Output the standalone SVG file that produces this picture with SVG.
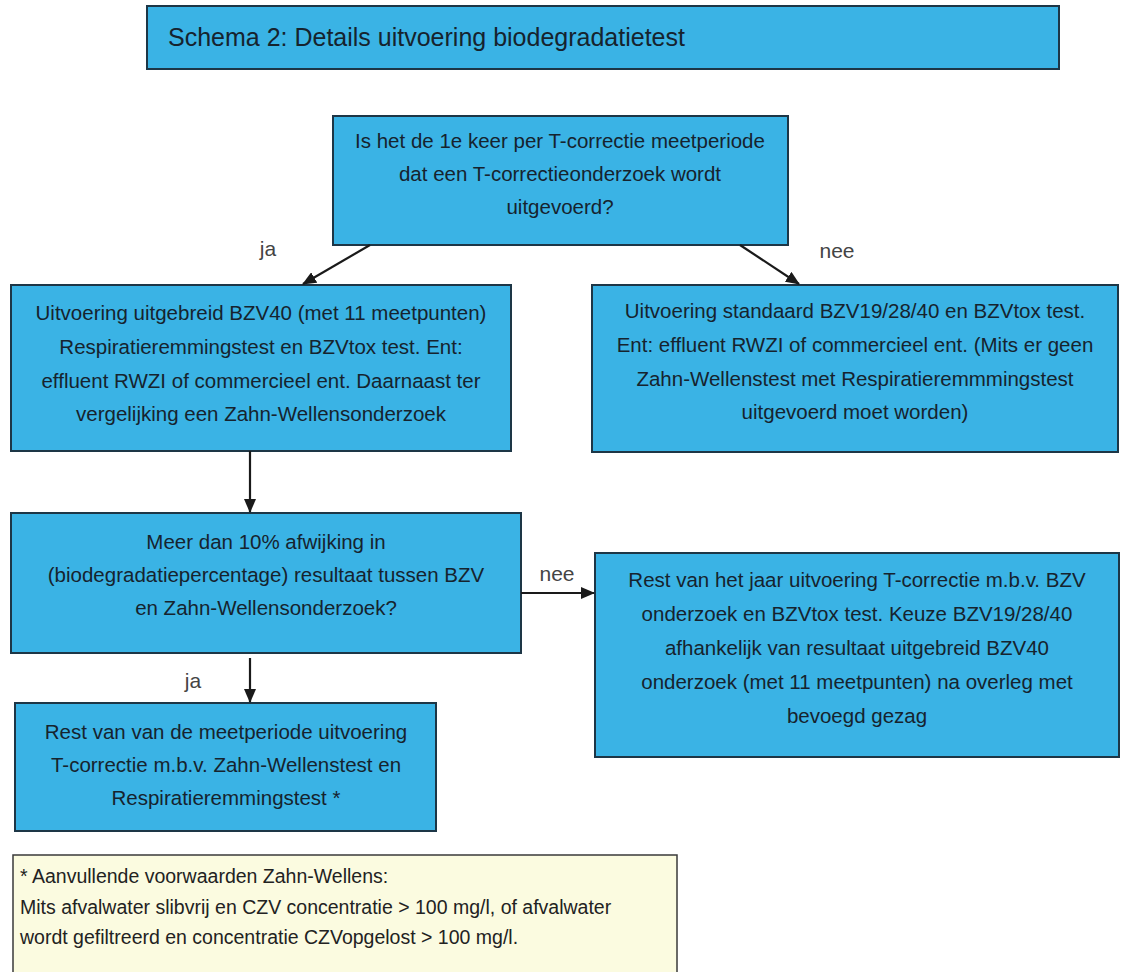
<svg xmlns="http://www.w3.org/2000/svg" width="1121" height="972" viewBox="0 0 1121 972">
<defs>
<style>
.box{fill:#3ab3e5;stroke:#1d3646;stroke-width:2}
.note{fill:#fbfbe0;stroke:#3a3a3a;stroke-width:1.5}
.t{font-family:"Liberation Sans",Arial,sans-serif;font-size:20.5px;fill:#16232e;text-anchor:middle}
.lbl{font-family:"Liberation Sans",Arial,sans-serif;font-size:21px;fill:#444;text-anchor:middle}
.title{font-family:"Liberation Sans",Arial,sans-serif;font-size:25px;fill:#16232e}
.nt{font-family:"Liberation Sans",Arial,sans-serif;font-size:19.5px;fill:#222}
.c{stroke:#1a1a1a;stroke-width:2.2;fill:none}
</style>
<marker id="ah" markerWidth="14" markerHeight="12" refX="13" refY="6" orient="auto" markerUnits="userSpaceOnUse" viewBox="0 0 14 12">
<path d="M0,0 L14,6 L0,12 z" fill="#1a1a1a"/>
</marker>
</defs>
<rect width="1121" height="972" fill="#ffffff"/>
<g id="title">
<rect class="box" x="147" y="6" width="912" height="63"/>
<text class="title" x="168" y="46">Schema 2: Details uitvoering biodegradatietest</text>
</g>
<g id="q1">
<rect class="box" x="333" y="116" width="455" height="129"/>
<text class="t" x="560" y="148">Is het de 1e keer per T-correctie meetperiode</text>
<text class="t" x="560" y="181">dat een T-correctieonderzoek wordt</text>
<text class="t" x="560" y="214">uitgevoerd?</text>
</g>
<g id="extended">
<rect class="box" x="11" y="285" width="500" height="166"/>
<text class="t" x="261" y="320">Uitvoering uitgebreid BZV40 (met 11 meetpunten)</text>
<text class="t" x="261" y="354">Respiratieremmingstest en BZVtox test. Ent:</text>
<text class="t" x="261" y="388">effluent RWZI of commercieel ent. Daarnaast ter</text>
<text class="t" x="261" y="421">vergelijking een Zahn-Wellensonderzoek</text>
</g>
<g id="standard">
<rect class="box" x="592" y="285" width="526" height="167"/>
<text class="t" x="855" y="318">Uitvoering standaard BZV19/28/40 en BZVtox test.</text>
<text class="t" x="855" y="352">Ent: effluent RWZI of commercieel ent. (Mits er geen</text>
<text class="t" x="855" y="386">Zahn-Wellenstest met Respiratieremmmingstest</text>
<text class="t" x="855" y="419">uitgevoerd moet worden)</text>
</g>
<g id="q2">
<rect class="box" x="11" y="513" width="510" height="140"/>
<text class="t" x="266" y="549">Meer dan 10% afwijking in</text>
<text class="t" x="266" y="582">(biodegradatiepercentage) resultaat tussen BZV</text>
<text class="t" x="266" y="615">en Zahn-Wellensonderzoek?</text>
</g>
<g id="rest-year">
<rect class="box" x="595" y="553" width="524" height="204"/>
<text class="t" x="857" y="587">Rest van het jaar uitvoering T-correctie m.b.v. BZV</text>
<text class="t" x="857" y="621">onderzoek en BZVtox test. Keuze BZV19/28/40</text>
<text class="t" x="857" y="655">afhankelijk van resultaat uitgebreid BZV40</text>
<text class="t" x="857" y="689">onderzoek (met 11 meetpunten) na overleg met</text>
<text class="t" x="857" y="723">bevoegd gezag</text>
</g>
<g id="rest-period">
<rect class="box" x="15" y="703" width="421" height="128"/>
<text class="t" x="226" y="739">Rest van van de meetperiode uitvoering</text>
<text class="t" x="226" y="772">T-correctie m.b.v. Zahn-Wellenstest en</text>
<text class="t" x="226" y="805">Respiratieremmingstest *</text>
</g>
<g id="footnote">
<rect class="note" x="13" y="855" width="664" height="125"/>
<text class="nt" x="20" y="883">* Aanvullende voorwaarden Zahn-Wellens:</text>
<text class="nt" x="20" y="914">Mits afvalwater slibvrij en CZV concentratie &gt; 100 mg/l, of afvalwater</text>
<text class="nt" x="20" y="944">wordt gefiltreerd en concentratie CZVopgelost &gt; 100 mg/l.</text>
</g>
<g id="connectors">
<line class="c" x1="370" y1="245" x2="303" y2="284" marker-end="url(#ah)"/>
<line class="c" x1="740" y1="245" x2="799" y2="284" marker-end="url(#ah)"/>
<line class="c" x1="250" y1="451" x2="250" y2="512" marker-end="url(#ah)"/>
<line class="c" x1="521" y1="593" x2="594" y2="593" marker-end="url(#ah)"/>
<line class="c" x1="250" y1="658" x2="250" y2="702" marker-end="url(#ah)"/>
<text class="lbl" x="268" y="256">ja</text>
<text class="lbl" x="837" y="258">nee</text>
<text class="lbl" x="557" y="581">nee</text>
<text class="lbl" x="193" y="688">ja</text>
</g>
</svg>
